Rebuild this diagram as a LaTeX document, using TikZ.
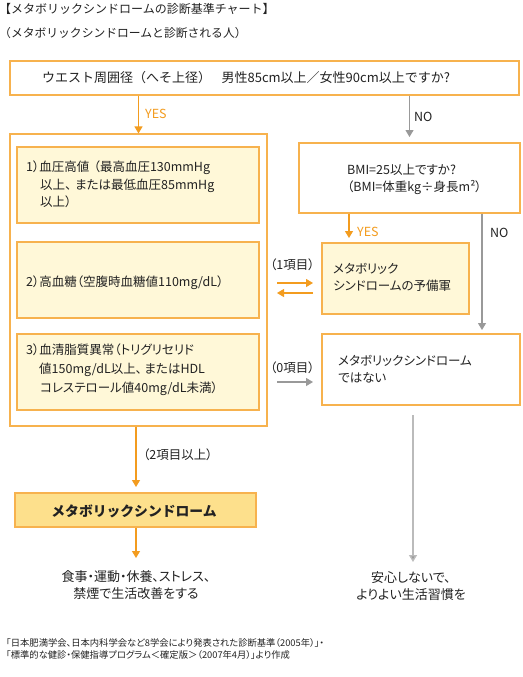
\documentclass[tikz,border=0pt]{standalone}
\usepackage{fontspec}
\setmainfont[RawFeature=+palt]{Noto Sans CJK JP}
\newfontfamily\jpn{Noto Sans CJK JP}
\usetikzlibrary{arrows.meta,calc}
\definecolor{oline}{HTML}{F7B24E}
\definecolor{oarr}{HTML}{F39C1F}
\definecolor{lfill}{HTML}{FFF8D8}
\definecolor{mfill}{HTML}{FDE08C}
\definecolor{garr}{HTML}{999999}
\definecolor{glong}{HTML}{BBBBBB}
\definecolor{txt}{HTML}{222222}
\tikzset{
  box/.style={draw=oline, line width=1.1pt, inner sep=0pt, fill=white},
  lbox/.style={box, fill=lfill},
  mbox/.style={box, fill=mfill},
  tx/.style={inner sep=0pt, text=txt, font=\fontsize{12.5}{17.5}\selectfont, align=left},
  sm/.style={inner sep=0pt, text=txt, font=\fontsize{9.3}{11}\selectfont, align=left},
  oarrow/.style={draw=oarr, line width=1.1pt, -{Triangle[width=8pt,length=7pt]}},
  garrow/.style={draw=garr, line width=1.1pt, -{Triangle[width=8pt,length=7pt]}},
  lgarrow/.style={draw=glong, line width=1.4pt, -{Triangle[width=8pt,length=7pt,fill=garr]}},
  otx/.style={inner sep=0pt, text=oarr, font=\fontsize{12.5}{15}\selectfont},
  gtx/.style={inner sep=0pt, text=txt, font=\fontsize{12.5}{15}\selectfont},
}
\begin{document}
\begin{tikzpicture}[x=1pt,y=-1pt]
\useasboundingbox[fill=white] (0,0) rectangle (522,677);

% titles
\node[tx, anchor=west, font=\jpn\fontsize{12}{15}\selectfont] (title) at (-1,9) {【メタボリックシンドロームの診断基準チャート】};
\node[tx, anchor=west, font=\jpn\fontsize{11.8}{15}\selectfont] (sub) at (-1,33) {（メタボリックシンドロームと診断される人）};

% boxes
\node[box, minimum width=509pt, minimum height=34pt] (q1) at (264.5,78) {};
\node[tx, anchor=west, font=\jpn\fontsize{13}{15}\selectfont] (q1t) at (42,78) {ウエスト周囲径（へそ上径）\hspace{0.8em}男性85cm以上／女性90cm以上ですか?};

\node[box, minimum width=257pt, minimum height=292pt] (crit) at (138.5,280) {};
\node[lbox, minimum width=242pt, minimum height=76pt] (c1) at (138,185) {};
\node[lbox, minimum width=242pt, minimum height=76pt] (c2) at (138,280) {};
\node[lbox, minimum width=242pt, minimum height=76pt] (c3) at (138,372) {};

\node[tx, anchor=north west] (c1t) at (26,161) {1）血圧高値\hspace{0.35em}（最高血圧130mmHg\\\hspace*{14pt}以上、\hspace{0.3em}または最低血圧85mmHg\\\hspace*{14pt}以上）};
\node[tx, anchor=west] (c2t) at (26,283) {2）高血糖（空腹時血糖値110mg/dL）};
\node[tx, anchor=north west, font=\fontsize{12.5}{19}\selectfont] (c3t) at (26,344) {3）血清脂質異常（トリグリセリド\\\hspace*{13pt}値150mg/dL以上、\hspace{0.2em}またはHDL\\\hspace*{14pt}コレステロール値40mg/dL未満）};

\node[box, minimum width=221pt, minimum height=70pt] (bmi) at (409.5,178) {};
\node[tx, anchor=west] (bmit) at (347,179.5) {BMI=25以上ですか?\\（BMI=体重kg÷身長m²）};

\node[lbox, minimum width=147pt, minimum height=71pt] (pre) at (395.5,278.5) {};
\node[tx, anchor=west] (pret) at (333,277.5) {メタボリック\\シンドロームの予備軍};

\node[box, minimum width=198pt, minimum height=71pt] (non) at (421,369.5) {};
\node[tx, anchor=west] (nont) at (338,369) {メタボリックシンドローム\\ではない};

\node[mbox, minimum width=241pt, minimum height=34pt] (ms) at (135.5,510) {};
\node[tx, font=\jpn\fontsize{13.8}{15}\bfseries\selectfont] (mst) at (134,511) {メタボリックシンドローム};

% outcome texts
\node[tx, align=center, font=\fontsize{13}{17}\selectfont] (act) at (136,585) {食事・運動・休養、ストレス、\\禁煙で生活改善をする};
\node[tx, align=center, font=\fontsize{13}{17}\selectfont] (safe) at (411,586.5) {安心しないで、\\よりよい生活習慣を};

% connectors
\draw[oarrow] (q1.south -| crit.north) -- (crit.north);
\node[otx, anchor=west] (yes1) at (145,114) {YES};

\coordinate (no1e) at (409.5,137);
\draw[garrow] (q1.south -| no1e) -- (no1e);
\node[gtx, anchor=west] (no1) at (414,117) {NO};

\coordinate (yes2e) at (349,238);
\draw[oarrow] (bmi.south -| yes2e) -- (yes2e);
\node[otx, anchor=west] (yes2) at (357,232) {YES};

\coordinate (no2e) at (482,330);
\draw[garrow] (bmi.south -| no2e) -- (no2e);
\node[gtx, anchor=west] (no2) at (490,233) {NO};

\node[gtx, anchor=west] (one) at (270,265) {（1項目）};
\coordinate (r1s) at (277,283);
\coordinate (r1e) at (313,283);
\draw[oarrow] (r1s) -- (r1e);
\coordinate (l1s) at (313,293);
\coordinate (l1e) at (277,293);
\draw[oarrow] (l1s) -- (l1e);

\node[gtx, anchor=west] (zero) at (270,368) {（0項目）};
\coordinate (z1s) at (277,382);
\coordinate (z1e) at (313,382);
\draw[garrow] (z1s) -- (z1e);

\coordinate (d1e) at (136,487);
\draw[oarrow] (crit.south -| d1e) -- (d1e);
\node[gtx, anchor=west] (two) at (143,455) {（2項目以上）};

\coordinate (d2e) at (136,558);
\draw[oarrow] (ms.south -| d2e) -- (d2e);

\coordinate (d3s) at (413,415);
\coordinate (d3e) at (413,562);
\draw[lgarrow] (d3s) -- (d3e);

% footnotes
\node[sm, anchor=west] (fn1) at (6,643) {「日本肥満学会、日本内科学会など8学会により発表された診断基準（2005年）」・};
\node[sm, anchor=west] (fn2) at (6,655) {「標準的な健診・保健指導プログラム＜確定版＞（2007年4月）」より作成};
\end{tikzpicture}
\end{document}
